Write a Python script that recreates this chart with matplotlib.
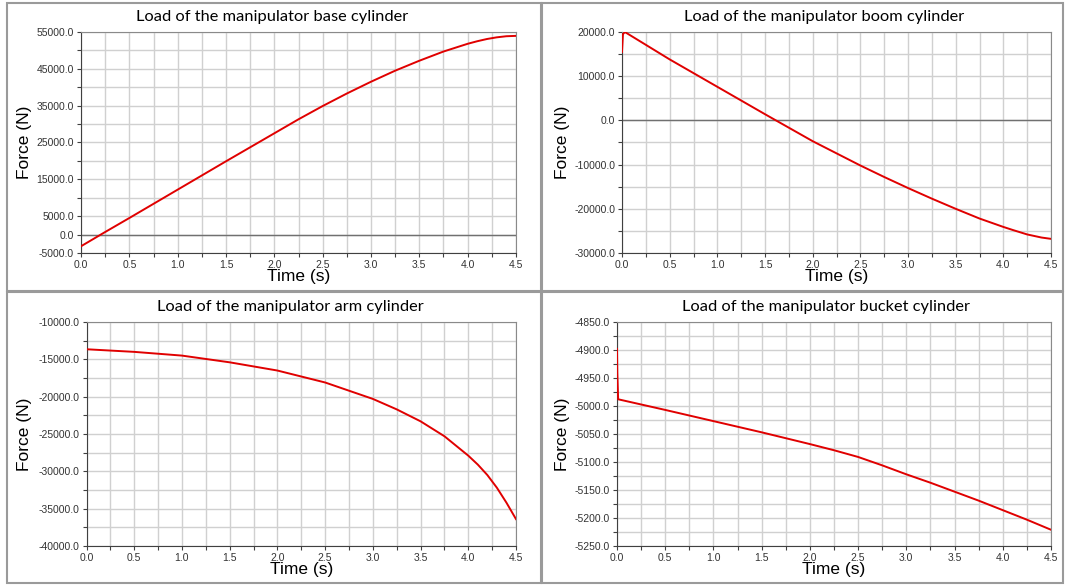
import matplotlib
matplotlib.use('Agg')
import matplotlib.pyplot as plt
from matplotlib.patches import Rectangle
from matplotlib.ticker import FormatStrFormatter
import numpy as np

# data
t_base = [0.0, 0.25, 0.5, 1.0, 1.5, 1.75, 2.0, 2.25, 2.5, 2.75, 3.0, 3.25, 3.5, 3.75,
          4.0, 4.1, 4.2, 4.3, 4.4, 4.5]
f_base = [-3170, 700, 4500, 12200, 19900, 23700, 27500, 31300, 34900, 38300, 41500, 44500,
          47200, 49700, 51800, 52500, 53100, 53550, 53850, 53950]

t_boom = [0.0, 0.01, 0.03, 0.5, 1.0, 1.5, 2.0, 2.25, 2.5, 2.75, 3.0, 3.25, 3.5, 3.75,
          4.0, 4.1, 4.25, 4.4, 4.5]
f_boom = [15500, 19500, 20000, 13800, 7600, 1400, -4700, -7450, -10200, -12800, -15300,
          -17700, -20000, -22200, -24100, -24800, -25800, -26500, -26800]

t_arm = [0.0, 0.5, 1.0, 1.5, 2.0, 2.5, 3.0, 3.25, 3.5, 3.75, 4.0, 4.1, 4.2, 4.3, 4.4, 4.5]
f_arm = [-13650, -14000, -14500, -15400, -16500, -18100, -20300, -21700, -23300, -25300,
         -27900, -29100, -30500, -32200, -34200, -36400]

t_bucket = [0.0, 0.003, 0.012, 0.5, 1.0, 1.5, 2.0, 2.25, 2.5, 2.75, 3.0, 3.25, 3.5, 3.75,
            4.0, 4.25, 4.5]
f_bucket = [-4898, -4940, -4988, -5007, -5027, -5047, -5068, -5079, -5091, -5106, -5122,
            -5137, -5153, -5169, -5186, -5203, -5221]

titles = ['Load of the manipulator base cylinder', 'Load of the manipulator boom cylinder',
          'Load of the manipulator arm cylinder', 'Load of the manipulator bucket cylinder']

W, H = 1067, 585
fig = plt.figure(figsize=(W / 100, H / 100), dpi=100)
fig.patch.set_facecolor('white')

def px_axes(x0, y0, x1, y1):
    return fig.add_axes([x0 / W, 1 - y1 / H, (x1 - x0) / W, (y1 - y0) / H])

def panel(box, t, f, ylim, major, minor, zero_line, title, title_xy, ylab_x):
    ax = px_axes(*box)
    ax.plot(t, f, color='#e00000', lw=1.4, zorder=3)
    ax.set_xlim(0, 4.5)
    ax.set_ylim(*ylim)
    ax.set_xticks(np.arange(0, 4.51, 0.5))
    ax.set_xticks(np.arange(0.25, 4.5, 0.5), minor=True)
    ax.set_yticks(major)
    ax.set_yticks(minor, minor=True)
    ax.xaxis.set_major_formatter(FormatStrFormatter('%.1f'))
    ax.yaxis.set_major_formatter(FormatStrFormatter('%.1f'))
    ax.grid(True, which='both', color='#d0d0d0', lw=1.0, zorder=0)
    if zero_line:
        ax.axhline(0, color='#707070', lw=1.0, zorder=2)
    ax.tick_params(which='both', direction='out', length=3, width=0.8, color='#404040',
                   labelsize=7.5, labelcolor='#333333', pad=2)
    for lab in ax.get_xticklabels() + ax.get_yticklabels():
        lab.set_family('Liberation Sans')
    for s in ['top', 'right']:
        ax.spines[s].set_color('#8a8a8a')
    for s in ['left', 'bottom']:
        ax.spines[s].set_color('#404040')
    ax.set_xlabel('Time (s)', fontsize=12.5, family='Liberation Sans', labelpad=-1)
    fig.text(ylab_x / W, 1 - (box[1] + box[3]) / 2 / H, 'Force (N)', rotation=90,
             ha='center', va='center', fontsize=12.5, family='Liberation Sans')
    fig.text(title_xy[0] / W, 1 - title_xy[1] / H, title, ha='center', va='center',
             fontsize=11.8, family='Lato')
    return ax

panel((81, 32, 516, 253), t_base, f_base, (-5000, 55000),
      [-5000, 0, 5000, 15000, 25000, 35000, 45000, 55000],
      [10000, 20000, 30000, 40000, 50000], True, titles[0], (272, 17), 25)
panel((622, 32, 1051, 253), t_boom, f_boom, (-30000, 20000),
      np.arange(-30000, 20001, 10000), np.arange(-25000, 20000, 10000), True,
      titles[1], (824, 17), 563)
panel((86.5, 322, 516, 546), t_arm, f_arm, (-40000, -10000),
      np.arange(-40000, -9999, 5000), np.arange(-37500, -10000, 5000), False,
      titles[2], (290, 307), 25)
panel((617, 322, 1051, 546), t_bucket, f_bucket, (-5250, -4850),
      np.arange(-5250, -4849, 50), np.arange(-5225, -4850, 50), False,
      titles[3], (826, 307), 563)

# grey frames around the panels
for (x0, y0, x1, y1) in [(7, 3, 541, 291), (542, 3, 1063, 291),
                         (7, 292, 541, 583), (542, 292, 1063, 583)]:
    fig.add_artist(Rectangle((x0 / W, 1 - y1 / H), (x1 - x0) / W, (y1 - y0) / H,
                             transform=fig.transFigure, fill=False,
                             edgecolor='#9a9a9a', lw=1.5))

fig.savefig('out.png', dpi=100)
